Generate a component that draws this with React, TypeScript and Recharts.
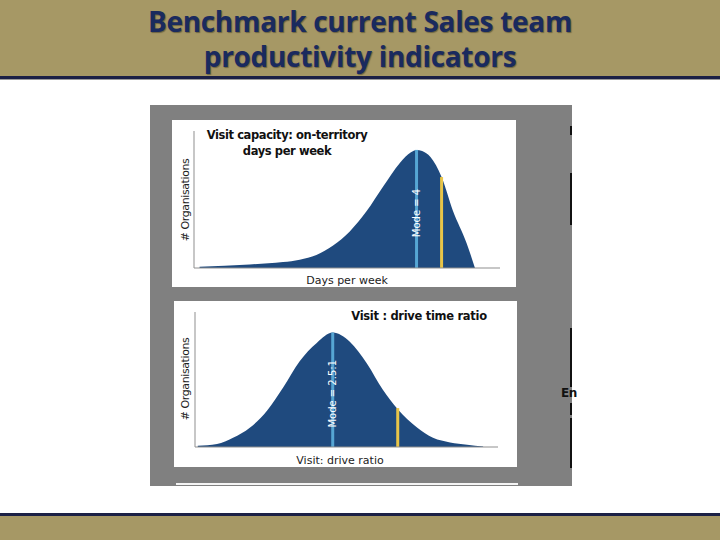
import React from 'react';
import { AreaChart, Area, XAxis, YAxis, ReferenceLine } from 'recharts';

// Top chart: on-territory days per week
const topDays = [0.1, 1.0, 1.6, 1.9, 2.2, 2.5, 2.8, 3.1, 3.4, 3.7, 3.9, 4.0, 4.1, 4.25, 4.45, 4.65, 4.9, 5.05];
const topCounts = [1, 3, 5, 7, 11, 19, 31, 48, 69, 89, 98, 100, 99, 94, 77, 49, 21, 0];
const topMode = 4;
const topMarker = 4.45;
const topMarkerHeight = 77;

// Bottom chart: visit : drive ratio
const botRatio = [0.05, 0.4, 0.69, 1.0, 1.31, 1.6, 1.9, 2.21, 2.5, 2.81, 3.12, 3.41, 3.68, 4.03, 4.32, 4.63, 4.94, 5.23];
const botCounts = [1, 2.6, 8, 17, 32, 52, 75, 91, 100, 92, 73, 50, 33, 17, 8, 4, 2, 0.5];
const botMode = 2.5;
const botMarker = 3.68;
const botMarkerHeight = 34;

const titleLines = ['Benchmark current Sales team', 'productivity indicators'];
const topTitle = ['Visit capacity: on-territory', 'days per week'];
const botTitle = 'Visit : drive time ratio';
const yLabel = '# Organisations';
const topXLabel = 'Days  per week';
const botXLabel = 'Visit: drive ratio';
const topModeLabel = 'Mode = 4';
const botModeLabel = 'Mode = 2.5:1';

const topData = topDays.map((x, i) => ({ x, y: topCounts[i] }));
const botData = botRatio.map((x, i) => ({ x, y: botCounts[i] }));

const NAVY = '#1F4A7E';
const MODE = '#56A6D4';
const GOLD = '#E8C548';
const TAN = '#A69865';
const font = '"DejaVu Sans", Verdana, sans-serif';

function abs(left: number, top: number, extra: React.CSSProperties = {}): React.CSSProperties {
  return { position: 'absolute', left, top, ...extra };
}

function Dist({ data, mode, marker, markerH, modeLabel, ymax, width, height, margin }: any) {
  const modeY = data.reduce((m: number, d: any) => (d.x === mode ? d.y : m), 0);
  return (
    <AreaChart width={width} height={height} data={data} margin={margin}>
      <XAxis type="number" dataKey="x" domain={[0, 5.5]} tick={false} tickLine={false} height={1} axisLine={{ stroke: '#8f8f8f', strokeWidth: 1 }} />
      <YAxis type="number" domain={[0, ymax]} tick={false} tickLine={false} width={1} axisLine={{ stroke: '#8f8f8f', strokeWidth: 1 }} />
      <Area type="monotone" dataKey="y" stroke="none" fill={NAVY} fillOpacity={1} isAnimationActive={false} />
      <ReferenceLine
        segment={[{ x: mode, y: 0 }, { x: mode, y: modeY }]}
        stroke={MODE}
        strokeWidth={3}
        label={{ value: modeLabel, position: 'center', angle: -90, fill: '#ffffff', fontSize: 10, fontFamily: font, dy: 4 }}
      />
      <ReferenceLine segment={[{ x: marker, y: 0 }, { x: marker, y: markerH }]} stroke={GOLD} strokeWidth={3} />
    </AreaChart>
  );
}

export default function App() {
  return (
    <div style={{ position: 'absolute', left: 0, top: 0, width: 720, height: 540, background: '#fff', overflow: 'hidden', fontFamily: font }}>
      {/* header */}
      <div style={abs(0, 0, { width: 720, height: 76, background: TAN })} />
      <div style={abs(0, 76, { width: 720, height: 3, background: '#1B2045' })} />
      <div style={abs(0, 79, { width: 720, height: 1, background: '#9a9a9a' })} />
      <div style={abs(0, 4, { width: 720, textAlign: 'center', fontFamily: '"Open Sans", sans-serif', fontWeight: 700, fontSize: 28, lineHeight: '35px', color: '#1A2A5E', textShadow: '1px 1px 1px rgba(0,0,0,0.35)', letterSpacing: -0.3 })}>
        <div>{titleLines[0]}</div>
        <div>{titleLines[1]}</div>
      </div>
      {/* footer */}
      <div style={abs(0, 513, { width: 720, height: 3, background: '#1B2045' })} />
      <div style={abs(0, 516, { width: 720, height: 24, background: TAN })} />

      {/* gray panel */}
      <div style={abs(150, 105, { width: 422, height: 381, background: '#808080' })} />
      <div style={abs(176, 483, { width: 342, height: 2, background: '#f4f4f4' })} />
      {/* cut-off right side elements */}
      <div style={abs(570, 126, { width: 2, height: 9, background: '#111' })} />
      <div style={abs(570, 173, { width: 2, height: 52, background: '#111' })} />
      <div style={abs(570, 328, { width: 2, height: 59, background: '#111' })} />
      <div style={abs(570, 403, { width: 2, height: 12, background: '#111' })} />
      <div style={abs(570, 418, { width: 2, height: 50, background: '#111' })} />
      <div style={abs(561, 386, { fontSize: 12, fontWeight: 700, color: '#111', lineHeight: '14px', whiteSpace: 'nowrap', letterSpacing: -0.5 })}>En</div>

      {/* top chart box */}
      <div style={abs(172, 120, { width: 344, height: 167, background: '#fff' })} />
      <div style={abs(172, 120)}>
        <Dist data={topData} mode={topMode} marker={topMarker} markerH={topMarkerHeight} modeLabel={topModeLabel} ymax={116}
          width={344} height={167} margin={{ top: 11, left: 21, right: 16, bottom: 18 }} />
      </div>
      <div style={abs(187, 127, { width: 200, textAlign: 'center', fontWeight: 700, fontSize: 11.5, lineHeight: '16px', color: '#111', letterSpacing: -0.4 })}>
        <div>{topTitle[0]}</div>
        <div>{topTitle[1]}</div>
      </div>
      <div style={abs(185, 200, { transform: 'translate(-50%, -50%) rotate(-90deg)', fontSize: 11, color: '#222', whiteSpace: 'nowrap', letterSpacing: -0.4 })}>{yLabel}</div>
      <div style={abs(347, 280, { transform: 'translate(-50%, -50%)', fontSize: 11, color: '#222', whiteSpace: 'nowrap' })}>{topXLabel}</div>

      {/* bottom chart box */}
      <div style={abs(174, 301, { width: 343, height: 166, background: '#fff' })} />
      <div style={abs(174, 301)}>
        <Dist data={botData} mode={botMode} marker={botMarker} markerH={botMarkerHeight} modeLabel={botModeLabel} ymax={118}
          width={343} height={166} margin={{ top: 11, left: 20, right: 19, bottom: 19 }} />
      </div>
      <div style={abs(419, 316, { transform: 'translate(-50%, -50%)', fontWeight: 700, fontSize: 11.5, color: '#111', whiteSpace: 'nowrap', letterSpacing: -0.3 })}>{botTitle}</div>
      <div style={abs(185, 379, { transform: 'translate(-50%, -50%) rotate(-90deg)', fontSize: 11, color: '#222', whiteSpace: 'nowrap', letterSpacing: -0.4 })}>{yLabel}</div>
      <div style={abs(340, 460, { transform: 'translate(-50%, -50%)', fontSize: 11, color: '#222', whiteSpace: 'nowrap' })}>{botXLabel}</div>
    </div>
  );
}
